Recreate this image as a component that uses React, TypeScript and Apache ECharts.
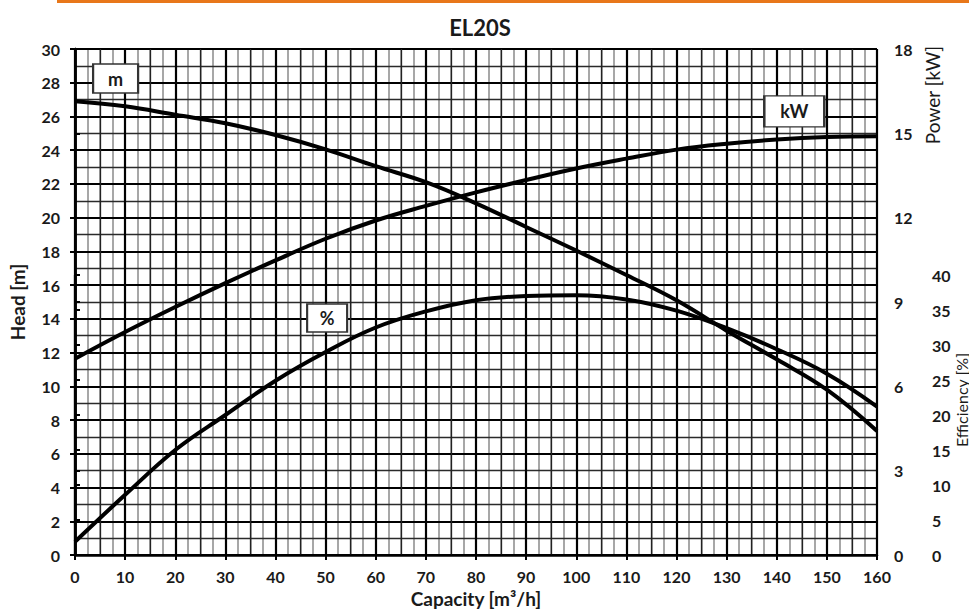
import React, { useEffect, useRef } from "react";
import * as echarts from "echarts";

// Capacity [m³/h]
const capacity = [0, 10, 20, 30, 40, 50, 60, 70, 80, 90, 100, 110, 120, 130, 140, 150, 160];
// Head [m]
const headM = [26.9, 26.6, 26.1, 25.6, 24.9, 24.05, 23.05, 22.1, 20.85, 19.45, 18.05, 16.6, 15.1, 13.3, 11.6, 9.8, 7.35];
// Power [kW]
const powerKW = [6.98, 7.93, 8.82, 9.67, 10.48, 11.25, 11.9, 12.42, 12.9, 13.34, 13.75, 14.1, 14.42, 14.63, 14.78, 14.87, 14.9];
// Efficiency [%]
const efficiencyPct = [1.9, 8.6, 15.0, 20.0, 24.9, 29.0, 32.5, 34.8, 36.4, 37.0, 37.1, 36.5, 34.9, 32.4, 29.4, 25.9, 21.2];

const FONT = "Lato";
const INK = "#1a1a1a";

export default function App() {
  const ref = useRef<HTMLDivElement>(null);

  useEffect(() => {
    if (!ref.current) return;
    const chart = echarts.init(ref.current, undefined, { renderer: "svg" });

    const toPairs = (ys: number[]) => capacity.map((c, i) => [c, ys[i]]);

    const tickLabel = {
      fontFamily: FONT,
      fontSize: 16,
      fontWeight: "bold" as const,
      color: INK,
    };

    const boxMark = (coord: number[], text: string, size: number[]) => ({
      symbol: "rect",
      symbolSize: size,
      silent: true,
      itemStyle: { color: "#ffffff", borderColor: "#333333", borderWidth: 1.8 },
      label: {
        show: true,
        position: "inside",
        formatter: text,
        fontFamily: FONT,
        fontSize: 18,
        fontWeight: "bold",
        color: INK,
      },
      data: [{ coord }],
    });

    chart.setOption({
      animation: false,
      backgroundColor: "#ffffff",
      textStyle: { fontFamily: FONT },
      grid: [
        { left: 75, right: 92, top: 49, bottom: 57, outerBoundsMode: "none", containLabel: false },
        { left: 75, right: 92, top: 275, bottom: 57, outerBoundsMode: "none", containLabel: false },
      ],
      xAxis: [
        {
          gridIndex: 0,
          type: "value",
          position: "bottom",
          min: 0,
          max: 160,
          interval: 10,
          axisLine: { show: true, lineStyle: { color: "#000", width: 2.5 } },
          axisTick: { show: true, length: 5, lineStyle: { color: "#000", width: 2 } },
          axisLabel: { ...tickLabel, margin: 13 },
          splitLine: { show: true, lineStyle: { color: "#000", width: 2.2 } },
          minorTick: { show: false, splitNumber: 2 },
          minorSplitLine: { show: true, lineStyle: { color: "#222", width: 1.3 } },
          name: "Capacity [m³/h]",
          nameLocation: "middle",
          nameGap: 33,
          nameTextStyle: { fontFamily: FONT, fontSize: 19, fontWeight: "bold", color: INK },
        },
        {
          // fine grey grid every 2.5
          gridIndex: 0,
          type: "value",
          position: "top",
          min: 0,
          max: 160,
          interval: 2.5,
          z: -1,
          axisLine: { show: false },
          axisTick: { show: false },
          axisLabel: { show: false },
          splitLine: { show: true, lineStyle: { color: "#8a8a8a", width: 1.5 } },
        },
        {
          gridIndex: 1,
          type: "value",
          min: 0,
          max: 160,
          show: false,
        },
      ],
      yAxis: [
        {
          gridIndex: 0,
          type: "value",
          min: 0,
          max: 30,
          interval: 2,
          position: "left",
          axisLine: { show: true, lineStyle: { color: "#000", width: 2.5 } },
          axisTick: { show: true, length: 5, lineStyle: { color: "#000", width: 2 } },
          axisLabel: { ...tickLabel, margin: 15 },
          splitLine: { show: true, lineStyle: { color: "#000", width: 2.2 } },
          minorTick: { show: false, splitNumber: 2 },
          minorSplitLine: { show: true, lineStyle: { color: "#2a2a2a", width: 1.3 } },
          name: "Head [m]",
          nameLocation: "middle",
          nameGap: 48,
          nameRotate: 90,
          nameTextStyle: { fontFamily: FONT, fontSize: 19, fontWeight: "bold", color: INK },
        },
        {
          gridIndex: 0,
          type: "value",
          min: 0,
          max: 18,
          interval: 3,
          position: "right",
          axisLine: { show: true, lineStyle: { color: "#000", width: 2.5 } },
          axisTick: { show: true, length: 5, lineStyle: { color: "#000", width: 2 } },
          axisLabel: { ...tickLabel, margin: 17 },
          splitLine: { show: false },
        },
        {
          gridIndex: 1,
          type: "value",
          min: 0,
          max: 40,
          interval: 5,
          position: "right",
          offset: 42,
          axisLine: { show: true, lineStyle: { color: "#000", width: 2.2 } },
          axisTick: { show: true, length: 5, lineStyle: { color: "#000", width: 2 } },
          axisLabel: { ...tickLabel, margin: 13 },
          splitLine: { show: false },
        },
      ],
      series: [
        {
          name: "Head",
          type: "line",
          xAxisIndex: 0,
          yAxisIndex: 0,
          data: toPairs(headM),
          smooth: 0.4,
          symbol: "none",
          lineStyle: { color: "#000", width: 4 },
          markPoint: boxMark([8.1, 28.25], "m", [45, 29]),
        },
        {
          name: "Power",
          type: "line",
          xAxisIndex: 0,
          yAxisIndex: 1,
          data: toPairs(powerKW),
          smooth: 0.4,
          symbol: "none",
          lineStyle: { color: "#000", width: 4 },
          markPoint: boxMark([143.5, 15.78], "kW", [60, 31]),
        },
        {
          name: "Efficiency",
          type: "line",
          xAxisIndex: 2,
          yAxisIndex: 2,
          data: toPairs(efficiencyPct),
          smooth: 0.4,
          symbol: "none",
          lineStyle: { color: "#000", width: 4 },
          markPoint: boxMark([50.3, 33.86], "%", [40, 28]),
        },
      ],
      graphic: [
        {
          type: "line",
          silent: true,
          shape: { x1: 57, y1: 1.5, x2: 969, y2: 1.5 },
          style: { stroke: "#E8771A", lineWidth: 3 },
        },
        {
          type: "text",
          x: 480,
          y: 27,
          silent: true,
          style: {
            text: "EL20S",
            fontFamily: FONT,
            fontSize: 22,
            fontWeight: "bold",
            fill: INK,
            align: "center",
            verticalAlign: "middle",
            textAlign: "center",
            textVerticalAlign: "middle",
          },
        },
        {
          type: "text",
          x: 932,
          y: 95,
          rotation: Math.PI / 2,
          silent: true,
          style: {
            text: "Power [kW]",
            fontFamily: FONT,
            fontSize: 19,
            fill: INK,
            align: "center",
            verticalAlign: "middle",
            textAlign: "center",
            textVerticalAlign: "middle",
          },
        },
        {
          type: "text",
          x: 961,
          y: 400,
          rotation: Math.PI / 2,
          silent: true,
          style: {
            text: "Efficiency [%]",
            fontFamily: FONT,
            fontSize: 16,
            fill: INK,
            align: "center",
            verticalAlign: "middle",
            textAlign: "center",
            textVerticalAlign: "middle",
          },
        },
      ],
    });

    return () => chart.dispose();
  }, []);

  return (
    <div
      ref={ref}
      style={{ position: "absolute", left: 0, top: 0, width: 969, height: 612 }}
    />
  );
}
